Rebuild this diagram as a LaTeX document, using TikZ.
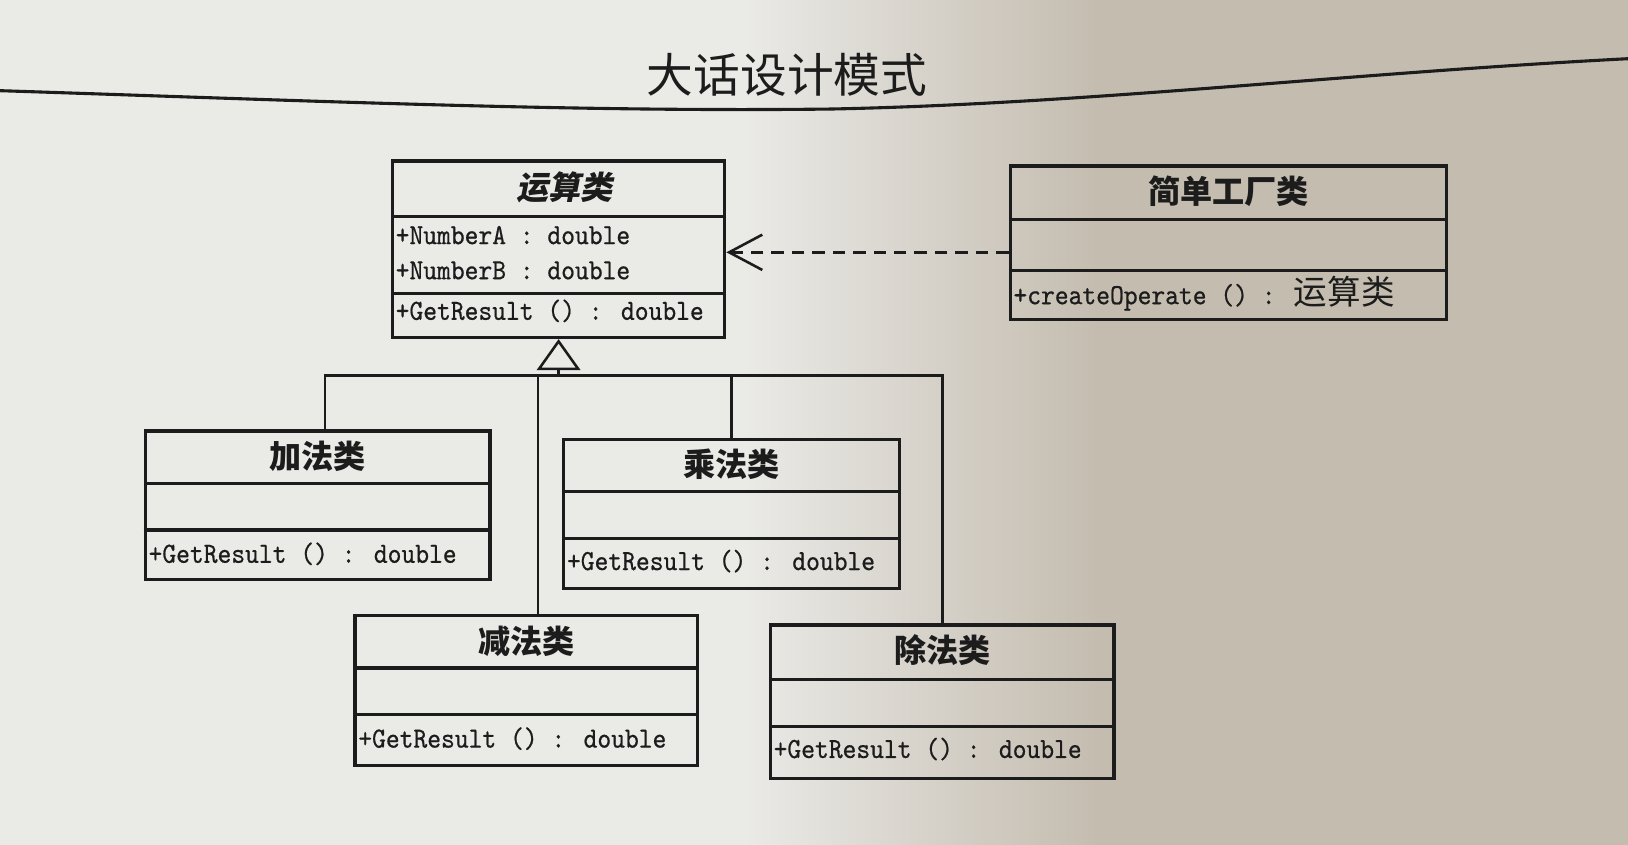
\documentclass[tikz,border=0pt]{standalone}
\usepackage{fontspec}
\newfontfamily\cjk{Noto Sans CJK SC}
\newfontfamily\cjkslant{Noto Sans CJK SC}[FakeSlant=0.2]
\newfontfamily\umlmono{lmmono10-regular.otf}[FakeStretch=0.9, FakeBold=0.6]
\usetikzlibrary{arrows.meta}
\definecolor{paperleft}{HTML}{EAEAE7}
\definecolor{paperright}{HTML}{C4BCAF}
\definecolor{ink}{HTML}{1C1C1C}

\tikzset{
  umlbox/.style={draw=ink, line width=0.9pt, inner sep=0pt},
  umldiv/.style={draw=ink, line width=0.9pt},
  umltitle/.style={text=ink, font=\cjk\bfseries\fontsize{8.8}{10}\selectfont},
  umlmember/.style={text=ink, anchor=west, inner sep=0pt, font=\umlmono\fontsize{8}{9}\selectfont},
  tree/.style={draw=ink, line width=0.7pt},
  inherit/.style={draw=ink, line width=0.7pt, -{Triangle[open, length=3mm, width=4.2mm]}},
  depend/.style={draw=ink, line width=0.7pt, dash pattern=on 3.4pt off 2.2pt, -{Straight Barb[length=3.2mm, width=3.4mm]}},
}

\begin{document}
\begin{tikzpicture}
\useasboundingbox (0,0) rectangle (15.68,-8.13);
% paper
\fill[paperleft] (-0.2,0.2) rectangle (7.2,-8.4);
\shade[left color=paperleft, right color=paperright] (7.15,0.2) rectangle (10.6,-8.4);
\fill[paperright] (10.55,0.2) rectangle (15.9,-8.4);

% page head
\node[text=ink, font=\cjk\fontsize{12.8}{14}\selectfont] (pagetitle) at (7.58,-0.72) {大话设计模式};
\draw[ink, line width=0.85pt] (-0.1,-0.87) .. controls (3,-0.97) and (5.5,-1.08) .. (8,-1.05)
  .. controls (10.5,-1.0) and (13,-0.7) .. (15.78,-0.56);

% 运算类
\node[umlbox, minimum width=3.20cm, minimum height=1.70cm] (op) at (5.38,-2.40) {};
\draw[umldiv] ([yshift=-0.55cm]op.north west) -- ([yshift=-0.55cm]op.north east);
\draw[umldiv] ([yshift=-1.29cm]op.north west) -- ([yshift=-1.29cm]op.north east);
\node[umltitle, font=\cjkslant\bfseries\fontsize{8.8}{10}\selectfont] (optitle) at ([xshift=0.06cm, yshift=-0.27cm]op.north) {运算类};
\node[umlmember] (opa) at ([xshift=0.04cm, yshift=-0.73cm]op.north west) {+NumberA : double};
\node[umlmember] (opb) at ([xshift=0.04cm, yshift=-1.07cm]op.north west) {+NumberB : double};
\node[umlmember] (opm) at ([xshift=0.04cm, yshift=-1.46cm]op.north west) {+GetResult () : double};

% 简单工厂类
\node[umlbox, minimum width=4.20cm, minimum height=1.48cm] (fac) at (11.83,-2.34) {};
\draw[umldiv] ([yshift=-0.53cm]fac.north west) -- ([yshift=-0.53cm]fac.north east);
\draw[umldiv] ([yshift=-1.02cm]fac.north west) -- ([yshift=-1.02cm]fac.north east);
\node[umltitle] (factitle) at ([yshift=-0.26cm]fac.north) {简单工厂类};
\node[umlmember] (facm) at ([xshift=0.04cm, yshift=-1.24cm]fac.north west) {+createOperate () : {\cjk\fontsize{9.2}{10}\selectfont 运算类}};

% 加法类
\node[umlbox, minimum width=3.32cm, minimum height=1.43cm] (add) at (3.06,-4.865) {};
\draw[umldiv] ([yshift=-0.52cm]add.north west) -- ([yshift=-0.52cm]add.north east);
\draw[umldiv] ([yshift=-0.97cm]add.north west) -- ([yshift=-0.97cm]add.north east);
\node[umltitle] (addtitle) at ([yshift=-0.26cm]add.north) {加法类};
\node[umlmember] (addm) at ([xshift=0.04cm, yshift=-1.20cm]add.north west) {+GetResult () : double};

% 乘法类
\node[umlbox, minimum width=3.23cm, minimum height=1.44cm] (mul) at (7.045,-4.95) {};
\draw[umldiv] ([yshift=-0.52cm]mul.north west) -- ([yshift=-0.52cm]mul.north east);
\draw[umldiv] ([yshift=-0.97cm]mul.north west) -- ([yshift=-0.97cm]mul.north east);
\node[umltitle] (multitle) at ([yshift=-0.26cm]mul.north) {乘法类};
\node[umlmember] (mulm) at ([xshift=0.04cm, yshift=-1.19cm]mul.north west) {+GetResult () : double};

% 减法类
\node[umlbox, minimum width=3.30cm, minimum height=1.44cm] (sub) at (5.07,-6.65) {};
\draw[umldiv] ([yshift=-0.52cm]sub.north west) -- ([yshift=-0.52cm]sub.north east);
\draw[umldiv] ([yshift=-0.97cm]sub.north west) -- ([yshift=-0.97cm]sub.north east);
\node[umltitle] (subtitle) at ([yshift=-0.26cm]sub.north) {减法类};
\node[umlmember] (subm) at ([xshift=0.04cm, yshift=-1.20cm]sub.north west) {+GetResult () : double};

% 除法类
\node[umlbox, minimum width=3.31cm, minimum height=1.48cm] (div) at (9.075,-6.76) {};
\draw[umldiv] ([yshift=-0.54cm]div.north west) -- ([yshift=-0.54cm]div.north east);
\draw[umldiv] ([yshift=-0.99cm]div.north west) -- ([yshift=-0.99cm]div.north east);
\node[umltitle] (divtitle) at ([yshift=-0.26cm]div.north) {除法类};
\node[umlmember] (divm) at ([xshift=0.04cm, yshift=-1.21cm]div.north west) {+GetResult () : double};

% generalization
\coordinate (hub) at ([yshift=-0.35cm]op.south);
\draw[inherit] (hub) -- (op.south);
\draw[tree] ([xshift=0.07cm]add.north) |- (hub) -| (div.north);
\draw[tree] ([xshift=0.11cm]sub.north) -- ([xshift=0.11cm]sub.north |- hub);
\draw[tree] (mul.north) -- (mul.north |- hub);

% dependency
\coordinate (facport) at ([yshift=-0.09cm]fac.west);
\draw[depend] (facport) -- (facport -| op.east);
\end{tikzpicture}
\end{document}
